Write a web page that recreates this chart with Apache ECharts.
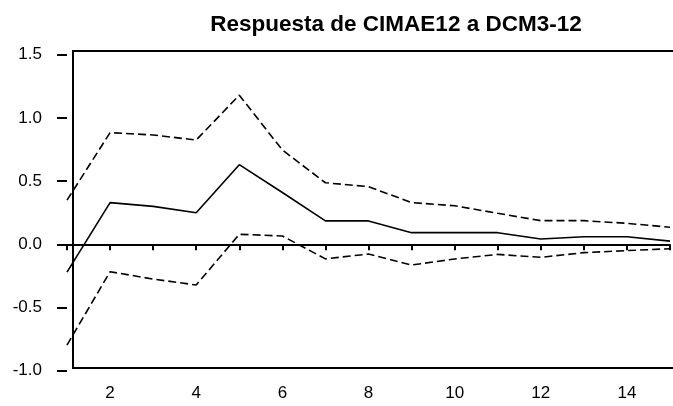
<!DOCTYPE html>
<html>
<head>
<meta charset="utf-8">
<title>Respuesta de CIMAE12 a DCM3-12</title>
<script src="https://cdn.jsdelivr.net/npm/echarts@6/dist/echarts.min.js"></script>
<style>
  html, body { margin: 0; padding: 0; background: #fff; }
  #chart { width: 673px; height: 406px; }
</style>
</head>
<body>
<div id="chart"></div>
<script>
// periodos (eje x)
const periods = [1, 2, 3, 4, 5, 6, 7, 8, 9, 10, 11, 12, 13, 14, 15]
// respuesta estimada
const response = [-0.22, 0.33, 0.30, 0.25, 0.63, 0.41, 0.185, 0.185, 0.092, 0.092, 0.092, 0.042, 0.06, 0.06, 0.025]
// banda superior (+2 s.e.)
const upperBand = [0.35, 0.883, 0.865, 0.825, 1.18, 0.746, 0.487, 0.456, 0.33, 0.305, 0.245, 0.187, 0.187, 0.166, 0.135]
// banda inferior (-2 s.e.)
const lowerBand = [-0.797, -0.217, -0.275, -0.322, 0.079, 0.066, -0.115, -0.077, -0.164, -0.116, -0.08, -0.103, -0.066, -0.05, -0.035]
// etiquetas del eje y
const yTicks = [-1.0, -0.5, 0.0, 0.5, 1.0, 1.5]

const title = 'Respuesta de CIMAE12 a DCM3-12'
const fontFamily = '"Liberation Sans", Arial, sans-serif'

const chart = echarts.init(document.getElementById('chart'))

// convierte los arrays en pares [x, y]
const toPairs = (values) => periods.map((p, i) => [p, values[i]])

const option = {
  animation: false,
  backgroundColor: '#fff',
  title: {
    text: title,
    left: 391,
    top: 8,
    textAlign: 'center',
    textStyle: {
      fontFamily: fontFamily,
      fontWeight: 'bold',
      fontSize: 22.5,
      color: '#000'
    }
  },
  grid: {
    left: 67,
    right: -6,
    top: 54.7,
    bottom: 35.3
  },
  // marco del grafico
  graphic: [
    {
      type: 'rect',
      shape: { x: 73, y: 51, width: 620, height: 317 },
      style: { fill: 'none', stroke: '#000', lineWidth: 2 },
      silent: true
    }
  ],
  xAxis: {
    type: 'value',
    min: 1,
    max: 15,
    interval: 1,
    axisLine: { show: false },
    axisTick: { show: true, inside: false, length: 6, lineStyle: { color: '#000', width: 2 } },
    splitLine: { show: false },
    axisLabel: {
      margin: 14,
      fontFamily: fontFamily,
      fontSize: 17,
      color: '#000',
      formatter: (v) => (v % 2 === 0 ? String(v) : '')
    }
  },
  yAxis: {
    type: 'value',
    min: yTicks[0],
    max: yTicks[yTicks.length - 1],
    interval: 0.5,
    axisLine: { show: false },
    axisTick: { show: true, inside: false, length: 10, lineStyle: { color: '#000', width: 2 } },
    splitLine: { show: false },
    axisLabel: {
      margin: 25,
      fontFamily: fontFamily,
      fontSize: 17,
      color: '#000',
      formatter: (v) => v.toFixed(1)
    }
  },
  series: [
    {
      name: 'respuesta',
      type: 'line',
      data: toPairs(response),
      symbol: 'none',
      lineStyle: { color: '#000', width: 1.6, type: 'solid' },
      // linea de cero
      markLine: {
        silent: true,
        symbol: 'none',
        label: { show: false },
        lineStyle: { color: '#000', width: 2, type: 'solid' },
        data: [{ yAxis: 0 }]
      }
    },
    {
      name: 'superior',
      type: 'line',
      data: toPairs(upperBand),
      symbol: 'none',
      lineStyle: { color: '#000', width: 1.6, type: [8, 4] }
    },
    {
      name: 'inferior',
      type: 'line',
      data: toPairs(lowerBand),
      symbol: 'none',
      lineStyle: { color: '#000', width: 1.6, type: [8, 4] }
    }
  ]
}

chart.setOption(option)
</script>
</body>
</html>
